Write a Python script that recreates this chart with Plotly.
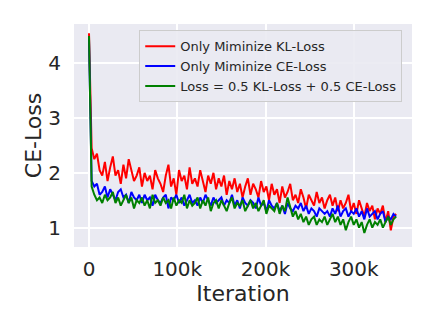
import plotly.graph_objects as go

# iterations, one sample every 3k
iterations = list(range(0, 351000, 3000))

kl_only = [4.55, 2.45, 2.25, 2.35, 2.05, 1.95, 2.2, 1.85, 2.1, 2.3,
           1.95, 2.05, 1.8, 2.15, 1.9, 2.25, 2.05, 1.85, 1.95, 2.1,
           1.75, 2.0, 1.85, 1.95, 1.7, 2.05, 1.9, 1.8, 1.65, 1.95,
           2.15, 1.75, 1.9, 1.6, 2.05, 1.85, 1.95, 1.7, 2.1, 1.8,
           1.9, 1.75, 2.05, 1.85, 1.65, 1.95, 1.8, 2.0, 1.7, 1.9,
           1.75, 1.95, 1.6, 1.85, 1.7, 1.9, 1.65, 1.8, 1.55, 1.75,
           1.9, 1.6, 1.8, 1.7, 1.55, 1.85, 1.65, 1.75, 1.5, 1.8,
           1.6, 1.7, 1.45, 1.75, 1.55, 1.65, 1.8, 1.5, 1.6, 1.45,
           1.7, 1.55, 1.35, 1.6, 1.5, 1.4, 1.65, 1.45, 1.55, 1.35,
           1.5, 1.6, 1.4, 1.55, 1.3, 1.5, 1.35, 1.45, 1.6, 1.3,
           1.45, 1.25, 1.5, 1.35, 1.2, 1.45, 1.3, 1.4, 1.15, 1.35,
           1.25, 1.4, 1.1, 1.3, 0.95, 1.2, 1.25]

ce_only = [4.45, 1.85, 1.75, 1.8, 1.6, 1.65, 1.75, 1.55, 1.7, 1.6,
           1.5, 1.65, 1.7, 1.55, 1.6, 1.45, 1.65, 1.55, 1.5, 1.6,
           1.45, 1.6, 1.5, 1.55, 1.4, 1.6, 1.5, 1.45, 1.55, 1.6,
           1.35, 1.55, 1.5, 1.6, 1.45, 1.55, 1.4, 1.5, 1.6, 1.45,
           1.5, 1.4, 1.55, 1.45, 1.6, 1.5, 1.4, 1.55, 1.45, 1.5,
           1.55, 1.4, 1.5, 1.45, 1.6, 1.4, 1.5, 1.35, 1.55, 1.45,
           1.4, 1.5, 1.45, 1.35, 1.55, 1.4, 1.45, 1.3, 1.5, 1.4,
           1.35, 1.45, 1.3, 1.4, 1.25, 1.45, 1.35, 1.3, 1.4, 1.35,
           1.45, 1.3, 1.4, 1.25, 1.35, 1.3, 1.2, 1.35, 1.3, 1.25,
           1.3, 1.2, 1.35, 1.25, 1.4, 1.2, 1.3, 1.35, 1.2, 1.3,
           1.25, 1.35, 1.2, 1.3, 1.15, 1.35, 1.2, 1.25, 1.3, 1.15,
           1.25, 1.3, 1.1, 1.2, 1.15, 1.25, 1.2]

mixed = [4.5, 1.75, 1.6, 1.5, 1.55, 1.45, 1.6, 1.5, 1.55, 1.65,
         1.45, 1.55, 1.4, 1.5, 1.6, 1.45, 1.55, 1.35, 1.5, 1.45,
         1.55, 1.4, 1.5, 1.35, 1.6, 1.45, 1.5, 1.4, 1.55, 1.45,
         1.5, 1.35, 1.55, 1.4, 1.5, 1.45, 1.6, 1.35, 1.5, 1.4,
         1.45, 1.55, 1.35, 1.5, 1.4, 1.55, 1.3, 1.45, 1.5, 1.35,
         1.5, 1.4, 1.3, 1.45, 1.55, 1.35, 1.45, 1.4, 1.5, 1.3,
         1.4, 1.5, 1.35, 1.45, 1.3, 1.4, 1.5, 1.25, 1.4, 1.35,
         1.3, 1.45, 1.25, 1.4, 1.3, 1.55, 1.35, 1.2, 1.3, 1.15,
         1.25, 1.1, 1.2, 1.05, 1.15, 1.2, 1.05, 1.15, 1.1, 1.2,
         1.05, 1.15, 1.25, 1.1, 1.2, 1.05, 1.15, 0.95, 1.1, 1.2,
         1.05, 1.15, 1.0, 1.1, 0.9, 1.05, 1.15, 1.0, 1.1, 1.05,
         1.15, 1.0, 1.1, 1.2, 1.05, 1.15, 1.2]

x_ticks = [0, 100000, 200000, 300000]
x_ticktext = ["0", "100k", "200k", "300k"]

fig = go.Figure()
fig.add_trace(go.Scatter(x=iterations, y=kl_only, mode="lines", name="Only Miminize KL-Loss",
                         line=dict(color="#ff0000", width=2)))
fig.add_trace(go.Scatter(x=iterations, y=ce_only, mode="lines", name="Only Miminize CE-Loss",
                         line=dict(color="#0000ff", width=2)))
fig.add_trace(go.Scatter(x=iterations, y=mixed, mode="lines", name="Loss = 0.5 KL-Loss + 0.5 CE-Loss",
                         line=dict(color="#008000", width=2)))

axis_font = dict(family="DejaVu Sans", size=20, color="#262626")
title_font = dict(family="DejaVu Sans", size=22, color="#262626")
# page body adds an 8px offset, so the figure is a bit smaller than the window
fig.update_layout(
    width=420, height=311,
    margin=dict(l=66, r=16, t=16, b=72),
    paper_bgcolor="white",
    plot_bgcolor="#EAEAF2",
    font=dict(family="DejaVu Sans", color="#262626"),
    legend=dict(x=0.193, y=0.972, xanchor="left", yanchor="top",
                bgcolor="rgba(234,234,242,0.9)", bordercolor="#cccccc", borderwidth=1,
                font=dict(size=13, color="#262626"), tracegroupgap=0, itemwidth=30),
    xaxis=dict(range=[-17000, 366000], tickvals=x_ticks, ticktext=x_ticktext,
               showgrid=True, gridcolor="white", gridwidth=1.5,
               zeroline=True, zerolinecolor="white", zerolinewidth=1.5,
               tickfont=axis_font, ticks="outside", ticklen=4, tickcolor="rgba(0,0,0,0)",
               automargin=False,
               title=dict(text="Iteration", font=title_font, standoff=0)),
    yaxis=dict(range=[0.645, 4.72], tickvals=[1, 2, 3, 4],
               showgrid=True, gridcolor="white", gridwidth=1.5, zeroline=False,
               tickfont=axis_font, ticks="outside", ticklen=8, tickcolor="rgba(0,0,0,0)",
               automargin=False,
               title=dict(text="CE-Loss", font=title_font, standoff=0)),
)

fig.write_html("out.html")
